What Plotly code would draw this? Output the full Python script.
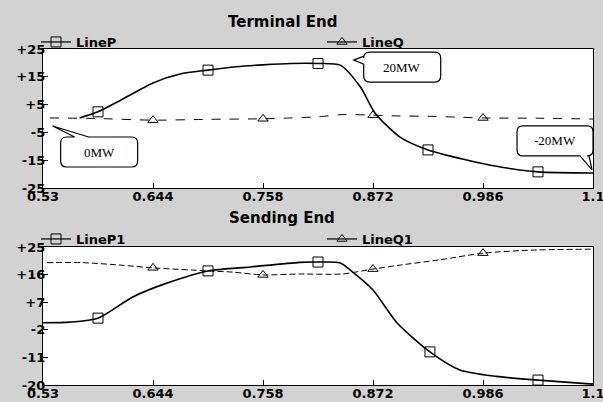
import plotly.graph_objects as go

# ---------------- data ----------------
X_TICKS = [0.53, 0.644, 0.758, 0.872, 0.986, 1.1]
X_TICKTEXT = ["0.53", "0.644", "0.758", "0.872", "0.986", "1.1"]

TOP_Y_TICKS = [25, 15, 5, -5, -15, -25]
TOP_Y_TEXT = ["+25", "+15", "+5", "-5", "-15", "-25"]
BOT_Y_TICKS = [25, 16, 7, -2, -11, -20]
BOT_Y_TEXT = ["+25", "+16", "+7", "-2", "-11", "-20"]

# Terminal End - LineP (solid)
P_X = [0.568, 0.587, 0.610, 0.644, 0.672, 0.701, 0.730, 0.758, 0.787, 0.815,
       0.838, 0.859, 0.874, 0.900, 0.929, 0.969, 1.000, 1.043, 1.100]
P_Y = [0.2, 2.4, 6.5, 12.8, 16.0, 17.4, 18.6, 19.3, 19.8, 19.8,
       19.2, 11.3, 2.0, -6.7, -11.3, -14.9, -17.2, -19.2, -19.6]
P_MX = [0.587, 0.701, 0.815, 0.929, 1.043]
P_MY = [2.4, 17.4, 19.8, -11.3, -19.2]

# Terminal End - LineQ (dashed)
Q_X = [0.537, 0.587, 0.644, 0.701, 0.758, 0.787, 0.815, 0.840, 0.872,
       0.900, 0.929, 0.958, 0.986, 1.043, 1.100]
Q_Y = [0.2, 0.0, -0.6, -0.3, -0.1, 0.2, 0.6, 1.4, 1.2,
       0.9, 0.8, 0.5, 0.2, 0.1, -0.2]
Q_MX = [0.644, 0.758, 0.872, 0.986]
Q_MY = [-0.6, -0.1, 1.2, 0.2]

# Sending End - LineP1 (solid)
P1_X = [0.530, 0.558, 0.587, 0.623, 0.659, 0.701, 0.745, 0.796, 0.815,
        0.838, 0.851, 0.872, 0.897, 0.931, 0.962, 1.000, 1.043, 1.100]
P1_Y = [0.3, 0.5, 1.8, 8.7, 13.3, 17.2, 18.5, 20.0, 20.1,
        19.8, 16.8, 11.0, 0.2, -9.2, -15.1, -17.2, -18.4, -19.7]
P1_MX = [0.587, 0.701, 0.815, 0.931, 1.043]
P1_MY = [1.8, 17.2, 20.1, -9.2, -18.4]

# Sending End - LineQ1 (dashed)
Q1_X = [0.534, 0.571, 0.610, 0.644, 0.701, 0.727, 0.758, 0.796, 0.840,
        0.872, 0.900, 0.941, 0.986, 1.038, 1.100]
Q1_Y = [19.9, 19.9, 19.1, 18.2, 17.2, 16.8, 15.9, 16.2, 16.2,
        17.8, 19.1, 20.8, 23.0, 24.0, 24.3]
Q1_MX = [0.644, 0.758, 0.872, 0.986]
Q1_MY = [18.2, 15.9, 17.8, 23.0]

# ---------------- layout constants ----------------
W, H = 603, 402
FONT = "DejaVu Sans"
def px_x(p):
    return p / W
def px_y(p):
    return 1 - p / H

fig = go.Figure()

def add_series(xs, ys, mxs, mys, xa, ya, dash, width, symbol, msize, name, legend):
    fig.add_trace(go.Scatter(x=xs, y=ys, mode="lines", xaxis=xa, yaxis=ya,
                             line=dict(color="black", width=width, dash=dash, shape="spline", smoothing=0.7),
                             showlegend=False, hoverinfo="skip"))
    fig.add_trace(go.Scatter(x=mxs, y=mys, mode="markers", xaxis=xa, yaxis=ya,
                             marker=dict(symbol=symbol, size=msize, color="black",
                                         line=dict(color="black", width=1)),
                             showlegend=False, hoverinfo="skip"))
    fig.add_trace(go.Scatter(x=[None], y=[None], mode="lines+markers", xaxis=xa, yaxis=ya,
                             name=name, legend=legend,
                             line=dict(color="black", width=1.2),
                             marker=dict(symbol=symbol, size=msize, color="black",
                                         line=dict(color="black", width=1))))

add_series(P_X, P_Y, P_MX, P_MY, "x", "y", "solid", 1.6, "square-open", 10, "LineP", "legend")
add_series(Q_X, Q_Y, Q_MX, Q_MY, "x", "y", "dash", 1.0, "triangle-up-open", 9, "LineQ", "legend2")
add_series(P1_X, P1_Y, P1_MX, P1_MY, "x2", "y2", "solid", 1.6, "square-open", 10, "LineP1", "legend3")
add_series(Q1_X, Q1_Y, Q1_MX, Q1_MY, "x2", "y2", "6px,3px", 1.0, "triangle-up-open", 9, "LineQ1", "legend4")

axis_common = dict(showline=True, mirror=True, linecolor="black", linewidth=1.2, automargin=False,
                   ticks="inside", ticklen=5, tickcolor="black", showgrid=False, zeroline=False,
                   ticklabeloverflow="allow",
                   tickfont=dict(family=FONT, size=13, color="black", weight="bold"))

xdom = [px_x(43), px_x(593)]
fig.update_layout(
    width=W, height=H, margin=dict(l=0, r=0, t=0, b=0, autoexpand=False),
    paper_bgcolor="#d2d2d2", plot_bgcolor="white",
    xaxis=dict(domain=xdom, range=[0.53, 1.1], tickvals=X_TICKS, ticktext=X_TICKTEXT,
               anchor="y", ticklabelstandoff=-4, **axis_common),
    yaxis=dict(domain=[px_y(188), px_y(49)], range=[-25, 25], tickvals=TOP_Y_TICKS,
               ticktext=TOP_Y_TEXT, anchor="x", ticklabelstandoff=-6, **axis_common),
    xaxis2=dict(domain=xdom, range=[0.53, 1.1], tickvals=X_TICKS, ticktext=X_TICKTEXT,
                anchor="y2", ticklabelstandoff=-4, **axis_common),
    yaxis2=dict(domain=[px_y(385), px_y(247)], range=[-20, 25], tickvals=BOT_Y_TICKS,
                ticktext=BOT_Y_TEXT, anchor="x2", ticklabelstandoff=-6, **axis_common),
)

def legend_at(xpx, ypx):
    return dict(x=px_x(xpx), y=px_y(ypx), xanchor="left", yanchor="middle",
                orientation="h", bgcolor="rgba(0,0,0,0)", borderwidth=0,
                font=dict(family=FONT, size=13, color="black", weight="bold"), tracegroupgap=0)

fig.update_layout(legend=legend_at(36, 42), legend2=legend_at(322, 42),
                  legend3=legend_at(36, 239), legend4=legend_at(322, 239))

# titles
for txt, ypx in [("Terminal End", 22), ("Sending End", 218)]:
    fig.add_annotation(text=txt, x=px_x(282), y=px_y(ypx), xref="paper", yref="paper",
                       showarrow=False, xanchor="center", yanchor="middle",
                       font=dict(family=FONT, size=15, color="black", weight="bold"))

# speech-bubble callouts (pixel geometry relative to the pointed-at spot)
def bubble_path(left, top, right, bottom, edge, a, b, r=6):
    def P(x, y):
        return f"{x},{-y}"
    s = f"M{P(left + r, top)}"
    if edge == "top":
        s += f" L{P(a, top)} L{P(0, 0)} L{P(b, top)}"
    s += f" L{P(right - r, top)} Q{P(right, top)} {P(right, top + r)}"
    s += f" L{P(right, bottom - r)} Q{P(right, bottom)} {P(right - r, bottom)}"
    if edge == "bottom":
        s += f" L{P(b, bottom)} L{P(0, 0)} L{P(a, bottom)}"
    s += f" L{P(left + r, bottom)} Q{P(left, bottom)} {P(left, bottom - r)}"
    if edge == "left":
        s += f" L{P(left, b)} L{P(0, 0)} L{P(left, a)}"
    s += f" L{P(left, top + r)} Q{P(left, top)} {P(left + r, top)} Z"
    return s

CALLOUTS = [
    # label, anchor x, anchor y, box(left, top, right, bottom), tail edge, a, b
    ("0MW", 0.540, -2.7, (8, 11, 85, 41), "top", 22, 36),
    ("20MW", 0.852, 21.0, (10, -8, 87, 22), "left", -4, 4),
    ("-20MW", 1.099, -18.5, (-75, -44, 1, -14), "bottom", -12, -3),
]
for label, ax_, ay_, (l, t, r_, b_), edge, a, b in CALLOUTS:
    fig.add_shape(type="path", xref="x", yref="y", xsizemode="pixel", ysizemode="pixel",
                  xanchor=ax_, yanchor=ay_, path=bubble_path(l, t, r_, b_, edge, a, b),
                  line=dict(color="black", width=1.2), fillcolor="white", layer="above")
    fig.add_annotation(text=label, x=ax_, y=ay_, xref="x", yref="y", showarrow=False,
                       xshift=(l + r_) / 2, yshift=-(t + b_) / 2,
                       font=dict(family="Liberation Serif", size=13, color="black"))

fig.write_html("out.html", config={"displayModeBar": False},
               post_script="document.body.style.margin='0';")
